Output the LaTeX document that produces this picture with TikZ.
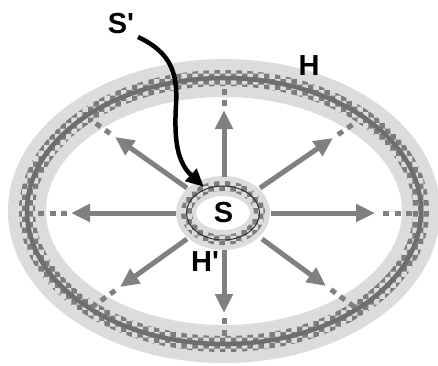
\documentclass[tikz,border=0pt]{standalone}
\usepackage{fontspec}
\newfontfamily\lblfont{Liberation Sans}
\usetikzlibrary{arrows.meta,patterns,calc}
\definecolor{bandlight}{HTML}{DCDCDC}
\definecolor{bandmid}{HTML}{7C7C7C}
\definecolor{bandcore}{HTML}{6E6E6E}
\definecolor{arrowgray}{HTML}{808080}
\tikzset{
  lbl/.style={font=\lblfont\fontsize{29}{31}\selectfont\bfseries, inner sep=0pt},
  ray/.style={draw=arrowgray, line width=5pt, -{Triangle[length=19pt,width=17pt]}},
  raydots/.style={draw=arrowgray, line width=5pt, dash pattern=on 6pt off 5.5pt},
  curvearrow/.style={draw=black, line width=4.5pt, -{Triangle[length=18pt,width=16pt]}}
}
\newcommand\rayarrow[4]{%
  \draw[ray] #1 -- #2;
  \draw[raydots] ($#2!-#3pt!#1$) -- ($#2!-#3pt-#4pt!#1$);
}
\begin{document}
\begin{tikzpicture}[x=1pt,y=-1pt]
\useasboundingbox (0,0) rectangle (438,365);
% big ring
\coordinate (C) at (224,211);
\draw[bandlight, line width=38pt] (C) ellipse [x radius=197pt, y radius=133pt];
\fill[pattern=checkerboard, pattern color=bandmid, even odd rule]
  (C) ellipse [x radius=205pt, y radius=141pt]
  (C) ellipse [x radius=189pt, y radius=125pt];
\draw[bandcore, line width=4.5pt] (C) ellipse [x radius=197pt, y radius=133pt];
% small ring
\coordinate (c) at (223,213);
\draw[bandlight, line width=20pt] (c) ellipse [x radius=37pt, y radius=27pt];
\fill[pattern=checkerboard, pattern color=bandmid, even odd rule]
  (c) ellipse [x radius=42pt, y radius=32pt]
  (c) ellipse [x radius=31pt, y radius=22pt];
\draw[black!80, line width=1pt] (c) ellipse [x radius=36.5pt, y radius=27pt];
% rays
\rayarrow{(224,177)}{(224,110)}{4}{17}
\rayarrow{(224,250)}{(224,313)}{5}{23}
\rayarrow{(271,213)}{(375,213)}{8}{29}
\rayarrow{(176,213)}{(71,213)}{4}{29}
\rayarrow{(260,188)}{(333,138)}{6}{23}
\rayarrow{(187,188)}{(115,137)}{6}{23}
\rayarrow{(262,239)}{(326,286)}{6}{34}
\rayarrow{(187,239)}{(120,287)}{6}{34}
% labels
\node[lbl] (Sp) at (121,24) {S'};
\node[lbl] (H) at (309,66) {H};
\node[lbl] (S) at (223.5,212.5) {S};
\node[lbl] (Hp) at (205,262) {H'};
% curved arrow
\coordinate (sp) at (138,37);
\coordinate (st) at (204,187);
\draw[curvearrow] (sp) .. controls (170,52) and (178,72) .. (176,105)
  .. controls (174,140) and (177,162) .. (st);
\end{tikzpicture}
\end{document}
